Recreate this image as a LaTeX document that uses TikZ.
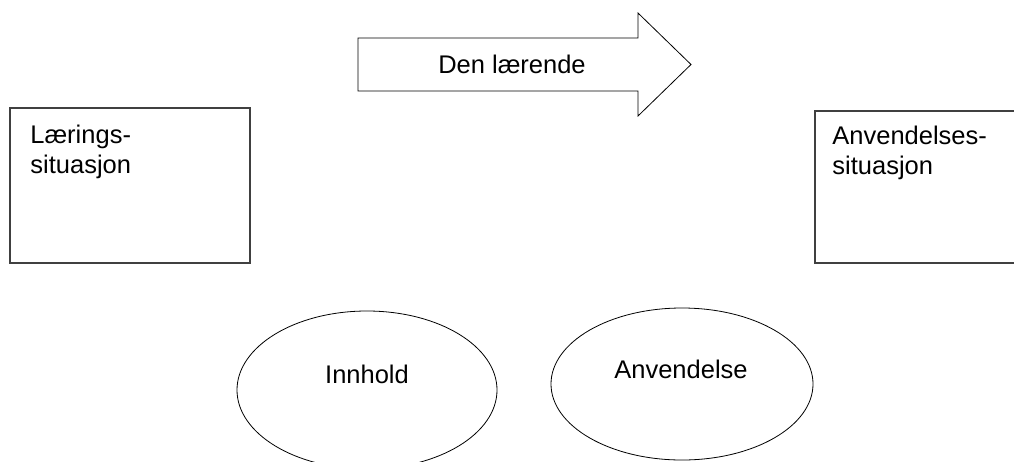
\documentclass[tikz,border=0pt]{standalone}
\usepackage{fontspec}
\setmainfont{Liberation Sans}
\usetikzlibrary{shapes.geometric, positioning}

\begin{document}
\begin{tikzpicture}[x=1pt, y=-1pt,
        box/.style={rectangle, draw=black!75, line width=1.2pt, minimum width=240pt, minimum height=155pt, inner sep=0pt},
        oval/.style={ellipse, draw, line width=0.8pt, inner sep=0pt},
        txt/.style={font=\fontsize{25.5}{30}\selectfont, inner sep=0pt, outer sep=0pt, align=left}]
        \useasboundingbox (0,0) rectangle (1014,461);
        \clip (0,0) rectangle (1014,461);
        % the two situations
        \node[box] (laering) at (130,185.5) {};
        \node[box, minimum height=152pt] (anvsit) at (935,187) {};
        \node[txt, below right=18pt and 21pt of laering.north west] (laeringtxt) {Lærings-\\situasjon};
        \node[txt, below right=16pt and 18pt of anvsit.north west] (anvsittxt) {Anvendelses-\\situasjon};
        % the learner
        \draw[line width=0.8pt] (358,38) -- (638,38) -- (638,13) -- (691,64.5)
            -- (638,116) -- (638,91) -- (358,91) -- cycle;
        \node[txt] (laerende) at (512,64) {Den lærende};
        % content and use
        \node[oval, minimum width=260pt, minimum height=158pt] (innhold) at (367,390) {};
        \node[txt] (innholdtxt) at (367,374) {Innhold};
        \node[oval, minimum width=262pt, minimum height=152pt] (anvendelse) at (682,384) {};
        \node[txt] (anvendelsetxt) at (681,369) {Anvendelse};
    \end{tikzpicture}
\end{document}
